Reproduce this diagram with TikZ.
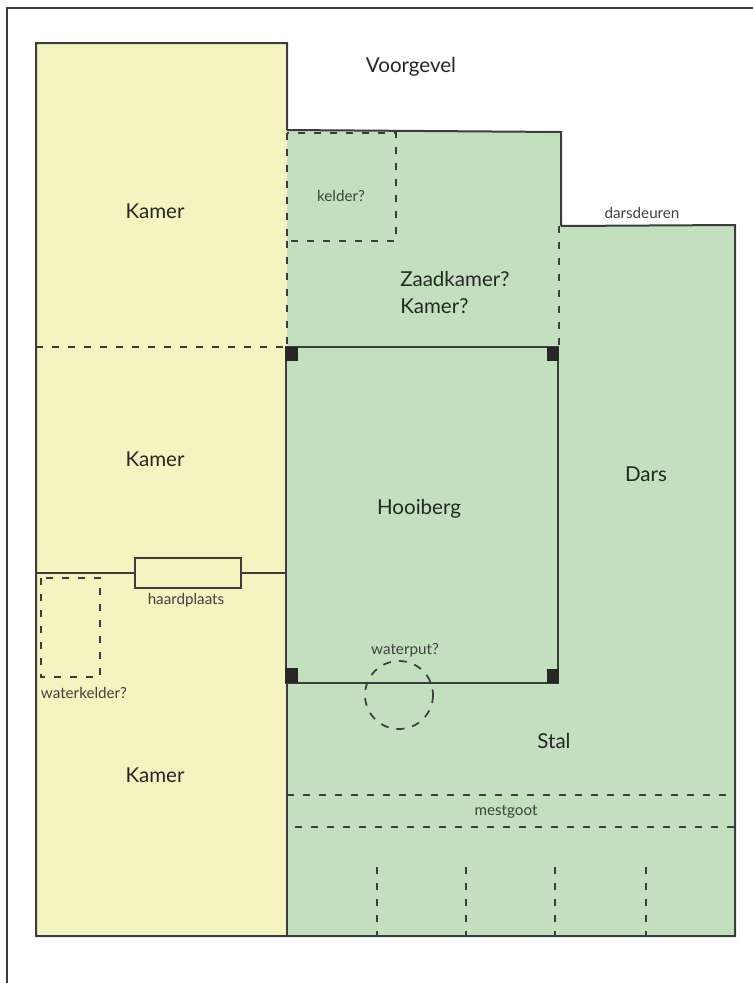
\documentclass[tikz,border=0pt]{standalone}
\usepackage{fontspec}
\setmainfont{Lato}
\definecolor{huisgeel}{HTML}{F5F4C1}
\definecolor{stalgroen}{HTML}{C2E0BD}
\definecolor{muurgrijs}{HTML}{3C3C3E}
\begin{document}
\begin{tikzpicture}[x=0.75pt,y=-0.75pt,
        wall/.style = {draw=muurgrijs,line width=1.5pt},
        hidden/.style = {draw=muurgrijs,line width=1.6pt,dash pattern=on 5.5pt off 6.5pt},
        thinhidden/.style = {draw=muurgrijs,line width=1.3pt,dash pattern=on 6pt off 6pt},
        post/.style = {fill=black!85},
        big/.style = {text=black!85,font=\fontsize{15.4}{18}\selectfont,inner sep=0pt},
        small/.style = {text=black!75,font=\fontsize{11.4}{12}\selectfont,inner sep=0pt}]
    \useasboundingbox (0,0) rectangle (753,983);

    % paper frame
    \draw[muurgrijs,line width=0.9pt] (7,983) -- (7,8) -- (753,8);

    % house and barn
    \fill[huisgeel] (36,43) rectangle (287,936);
    \fill[stalgroen] (287,130) -- (561,132) -- (561,226) -- (735,225)
        -- (735,936) -- (287,936) -- cycle;

    % outer walls
    \draw[wall] (287,130) -- (287,43) -- (36,43) -- (36,936) -- (735,936)
        -- (735,225) -- (561,226);
    \draw[wall] (287,130) -- (561,132) -- (561,226);
    \draw[wall] (287,683) -- (287,936);

    % hooiberg
    \draw[wall] (286,347) rectangle (558,683);
    \fill[post] (285,347) rectangle (298,361);
    \fill[post] (547,347) rectangle (559,361);
    \fill[post] (285,668) rectangle (298,683);
    \fill[post] (547,669) rectangle (559,683);

    % inner walls
    \draw[hidden] (36,347) -- (286,347);
    \draw[wall] (36,573) -- (135,573);
    \draw[wall] (241,573) -- (286,573);
    \draw[wall] (135,558) rectangle (241,588);
    \draw[hidden] (41,578) rectangle (100,677);
    \draw[hidden] (287,133) rectangle (396,241);
    \draw[hidden] (287,241) -- (287,347);
    \draw[hidden] (559,226) -- (559,347);
    \draw[thinhidden] (399,695) circle (34);

    % mestgoot and stalls
    \draw[hidden] (287,795) -- (735,795);
    \draw[hidden] (295,827) -- (735,827);
    \foreach \x in {377,466,555,646}
        \draw[hidden] (\x,867) -- (\x,936);

    \node[big] (voorgevel) at (411,67) {Voorgevel};
    \node[big] (kamer1) at (155,211) {Kamer};
    \node[big] (kamer2) at (155,459) {Kamer};
    \node[big] (kamer3) at (155,775) {Kamer};
    \node[big,anchor=west] (zaadkamer) at (400,279) {Zaadkamer?};
    \node[big,anchor=west] (kamer4) at (400,306) {Kamer?};
    \node[big] (hooiberg) at (419,509) {Hooiberg};
    \node[big] (dars) at (646,474) {Dars};
    \node[big] (stal) at (554,741) {Stal};
    \node[small] (kelder) at (341,196) {kelder?};
    \node[small] (darsdeuren) at (642,213) {darsdeuren};
    \node[small] (haardplaats) at (186,600) {haardplaats};
    \node[small] (waterkelder) at (84,693) {waterkelder?};
    \node[small] (waterput) at (405,650) {waterput?};
    \node[small] (mestgoot) at (506,812) {mestgoot};
\end{tikzpicture}
\end{document}
